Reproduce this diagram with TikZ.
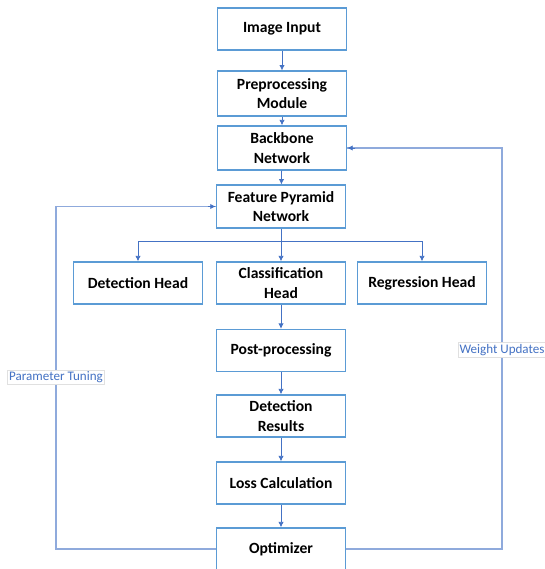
\documentclass[tikz,border=0pt]{standalone}
\usepackage{fontspec}
\setmainfont{Carlito}
\usepackage{tikz}
\usetikzlibrary{arrows.meta}
\definecolor{boxblue}{RGB}{91,155,213}
\definecolor{arrowblue}{RGB}{68,114,196}
\definecolor{loopblue}{RGB}{143,170,220}
\begin{document}
\begin{tikzpicture}[x=0.75pt, y=-0.75pt, line width=.6pt,
    stage/.style={draw=boxblue, line width=1.1pt, fill=white, minimum width=97pt,
        minimum height=31.5pt, align=center, inner sep=1pt,
        font=\fontsize{11.7}{14.5}\selectfont\bfseries},
    flow/.style={draw=arrowblue, -{Latex[length=4pt,width=4pt]}},
    loopline/.style={draw=loopblue, line width=1.2pt},
    tag/.style={draw=black!12, line width=.4pt, fill=white, text=arrowblue,
        inner sep=1.2pt, font=\fontsize{9.8}{11}\selectfont}]
    \useasboundingbox (0,0) rectangle (545,569);
    % Stufen.
    \node[stage] (in)   at (282,29)    {Image Input};
    \node[stage, minimum height=33.5pt] (pre) at (282,93.5) {Preprocessing\\Module};
    \node[stage, minimum height=33pt] (bb) at (282,148) {Backbone\\Network};
    \node[stage, minimum height=32pt] (fpn) at (281,206.5) {Feature Pyramid\\Network};
    \node[stage] (det)  at (138,283)   {Detection Head};
    \node[stage] (cls)  at (281,283)   {Classification\\Head};
    \node[stage] (reg)  at (422,283)   {Regression Head};
    \node[stage] (post) at (281,350.5) {Post-processing};
    \node[stage] (res)  at (281,416)   {Detection\\Results};
    \node[stage] (loss) at (281,483)   {Loss Calculation};
    \node[stage] (opt)  at (281,549)   {Optimizer};

    % Pfeile.
    \draw[flow] (in) -- (pre);
    \draw[flow] (pre) -- (bb);
    \draw[flow] (bb) -- (fpn);
    \coordinate (split) at (281,241);
    \draw[arrowblue] (fpn) -- (split);
    \draw[flow] (split) -| (det);
    \draw[flow] (split) -- (cls);
    \draw[flow] (split) -| (reg);
    \draw[flow] (cls) -- (post);
    \draw[flow] (post) -- (res);
    \draw[flow] (res) -- (loss);
    \draw[flow] (loss) -- (opt);

    % Rueckfuehrung.
    \coordinate (lx) at (56,377);
    \coordinate (rx) at (502,350);
    \draw[loopline] (opt.west) -| (lx);
    \draw[loopline] (lx) |- ([yshift=.1pt]fpn.west);
    \draw[flow] ([xshift=-6pt]fpn.west) -- (fpn.west);
    \draw[loopline] (opt.east) -| (rx);
    \draw[loopline] (rx) |- ([yshift=.1pt]bb.east);
    \draw[flow] ([xshift=6pt]bb.east) -- (bb.east);

    % Beschriftung.
    \node[tag] (tune) at (lx) {Parameter Tuning};
    \node[tag] (upd)  at (rx) {Weight Updates};
\end{tikzpicture}
\end{document}
